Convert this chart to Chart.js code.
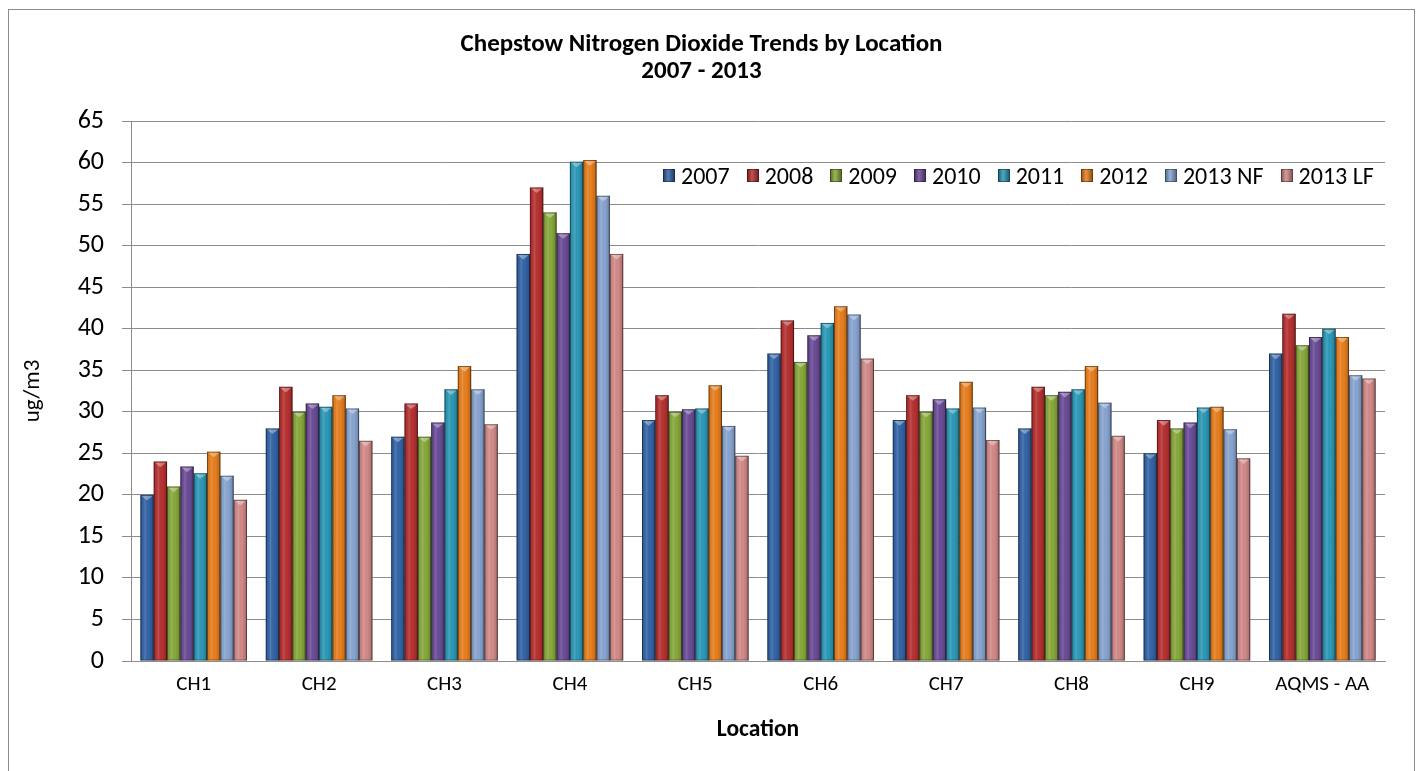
<!DOCTYPE html>
<html>
<head>
<meta charset="utf-8">
<script src="https://cdn.jsdelivr.net/npm/chart.js@4.4.1/dist/chart.umd.min.js"></script>
<style>
  html, body { margin: 0; padding: 0; background: #fff; overflow: hidden; }
  #wrap { position: relative; width: 1424px; height: 771px; }
  #frame { position: absolute; left: 8px; top: 9px; width: 1407px; height: 800px; border: 1px solid #8c8c8c; box-sizing: border-box; pointer-events: none; }
  #legend { position: absolute; left: 663px; top: 161px; display: flex; align-items: center; font: 24px Carlito, Lato, sans-serif; color: #000; white-space: nowrap; }
  #legend .item { display: flex; align-items: center; margin-right: 17px; }
  #legend .item:last-child { margin-right: 0; }
  #legend .box { width: 12px; height: 13px; margin-right: 6px; box-sizing: border-box; }
</style>
</head>
<body>
<div id="wrap">
  <canvas id="chart" width="1424" height="771"></canvas>
  <div id="frame"></div>
  <div id="legend"></div>
</div>
<script>
// --- data ---
const locations = ['CH1', 'CH2', 'CH3', 'CH4', 'CH5', 'CH6', 'CH7', 'CH8', 'CH9', 'AQMS - AA'];
const seriesNames = ['2007', '2008', '2009', '2010', '2011', '2012', '2013 NF', '2013 LF'];

const y2007   = [20,   28,   27,   49,   29,   37,   29,   28,   25,   37];
const y2008   = [24,   33,   31,   57,   32,   41,   32,   33,   29,   41.8];
const y2009   = [21,   30,   27,   54,   30,   36,   30,   32,   28,   38];
const y2010   = [23.4, 31,   28.7, 51.5, 30.3, 39.2, 31.5, 32.4, 28.7, 39];
const y2011   = [22.6, 30.6, 32.7, 60.1, 30.4, 40.7, 30.4, 32.7, 30.5, 40];
const y2012   = [25.2, 32,   35.5, 60.3, 33.2, 42.7, 33.6, 35.5, 30.6, 39];
const y2013NF = [22.3, 30.4, 32.7, 56,   28.3, 41.7, 30.5, 31.1, 27.9, 34.4];
const y2013LF = [19.4, 26.5, 28.5, 49,   24.7, 36.4, 26.6, 27.1, 24.4, 34];

const yTicks = [0, 5, 10, 15, 20, 25, 30, 35, 40, 45, 50, 55, 60, 65];

const seriesValues = [y2007, y2008, y2009, y2010, y2011, y2012, y2013NF, y2013LF];
const seriesColors = ['#3465a8', '#b83232', '#88aa3c', '#6c4d98', '#2d9ab8', '#e9801f', '#89a6d2', '#d38b89'];

const FONT = 'Carlito, Lato, sans-serif';

/**
 * Shading over the bars: darker edges, lighter middle, small bevel on top
 */
const barShadePlugin = {
  id: 'barShade',
  afterDatasetsDraw(chart) {
    const c = chart.ctx;
    chart.data.datasets.forEach((ds, i) => {
      const meta = chart.getDatasetMeta(i);
      meta.data.forEach((bar) => {
        const { x, y, base, width } = bar.getProps(['x', 'y', 'base', 'width'], true);
        const l = x - width / 2;
        const r = x + width / 2;
        const g = c.createLinearGradient(l, 0, r, 0);
        g.addColorStop(0, 'rgba(0,0,0,0.30)');
        g.addColorStop(0.12, 'rgba(0,0,0,0.05)');
        g.addColorStop(0.35, 'rgba(255,255,255,0.14)');
        g.addColorStop(0.6, 'rgba(0,0,0,0.0)');
        g.addColorStop(0.88, 'rgba(0,0,0,0.15)');
        g.addColorStop(1, 'rgba(0,0,0,0.45)');
        c.save();
        c.fillStyle = g;
        c.fillRect(l, y, width, base - y);
        // bevel on top
        c.beginPath();
        c.moveTo(l + 1, y + 1);
        c.lineTo(r - 1, y + 1);
        c.lineTo(x, y + width * 0.42);
        c.closePath();
        c.fillStyle = 'rgba(255,255,255,0.35)';
        c.fill();
        c.strokeStyle = 'rgba(0,0,0,0.35)';
        c.lineWidth = 1;
        c.strokeRect(l + 0.5, y + 0.5, width - 1, base - y - 1);
        c.restore();
      });
    });
  }
};

const datasets = seriesNames.map((name, i) => ({
  label: name,
  data: seriesValues[i],
  backgroundColor: seriesColors[i],
  borderWidth: 0,
  barPercentage: 1.0,
  categoryPercentage: 0.85,
}));

const chart = new Chart(document.getElementById('chart').getContext('2d'), {
  type: 'bar',
  data: { labels: locations, datasets },
  options: {
    responsive: false,
    animation: false,
    layout: { padding: { left: 18, right: 39, top: 0, bottom: 0 } },
    plugins: {
      legend: { display: false },
      tooltip: { enabled: false },
      title: {
        display: true,
        text: ['Chepstow Nitrogen Dioxide Trends by Location', '2007 - 2013'],
        color: '#000',
        font: { family: FONT, size: 25, weight: 'bold', lineHeight: 1.08 },
        padding: { top: 31, bottom: 36 },
      },
    },
    scales: {
      x: {
        grid: { display: false, drawTicks: false },
        border: { display: true, color: '#8c8c8c', width: 1 },
        ticks: { color: '#000', font: { family: FONT, size: 21 }, padding: 11, maxRotation: 0 },
        title: { display: true, text: 'Location', color: '#000', font: { family: FONT, size: 23.5, weight: 'bold' }, padding: { top: 0, bottom: 27 } },
        afterFit: (scale) => { scale.height = 110; },
      },
      y: {
        min: 0,
        max: 65,
        afterBuildTicks: (scale) => { scale.ticks = yTicks.map(v => ({ value: v })); },
        grid: { color: '#8c8c8c', lineWidth: 1, drawTicks: true, tickLength: 9 },
        border: { display: true, color: '#8c8c8c', width: 1 },
        ticks: { color: '#000', font: { family: FONT, size: 26 }, padding: 18 },
        title: { display: true, text: 'ug/m3', color: '#000', font: { family: FONT, size: 23 }, padding: { top: 1, bottom: 0 } },
        afterFit: (scale) => { scale.width = 113; },
      },
    },
  },
  plugins: [barShadePlugin],
});

// legend inside the plot, built from the datasets
const legendEl = document.getElementById('legend');
chart.data.datasets.forEach((ds) => {
  const item = document.createElement('div');
  item.className = 'item';
  const box = document.createElement('span');
  box.className = 'box';
  box.style.background = `linear-gradient(to right, rgba(0,0,0,0.3), rgba(255,255,255,0.15) 40%, rgba(0,0,0,0.35)), ${ds.backgroundColor}`;
  box.style.border = '1px solid rgba(0,0,0,0.35)';
  const txt = document.createElement('span');
  txt.textContent = ds.label;
  item.appendChild(box);
  item.appendChild(txt);
  legendEl.appendChild(item);
});
</script>
</body>
</html>
